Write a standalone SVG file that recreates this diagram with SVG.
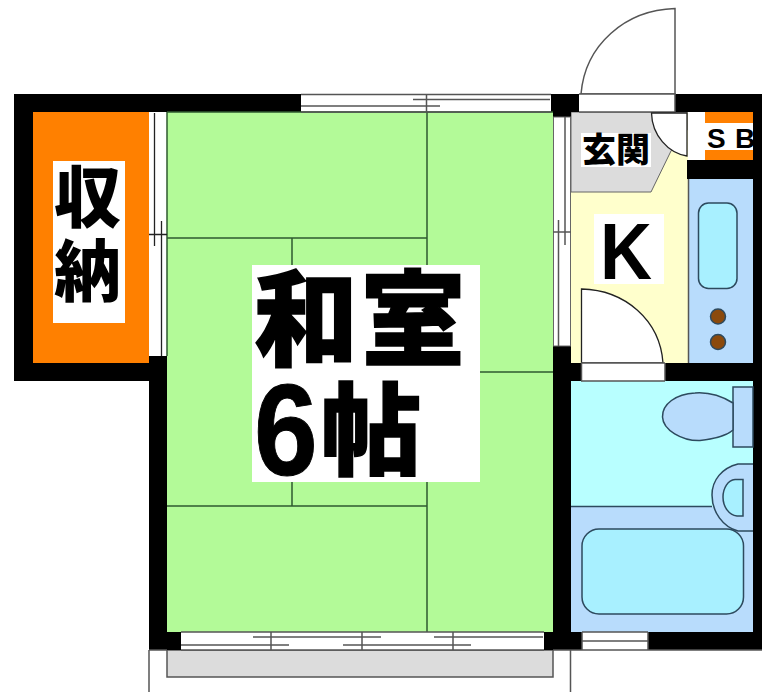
<svg xmlns="http://www.w3.org/2000/svg" width="762" height="692" viewBox="0 0 762 692">
<style>
.w{fill:#000}
.l{fill:none;stroke:#555;stroke-width:1.5}
.t{stroke:#2f5a2f;stroke-width:1.5;fill:none}
.d{stroke:#2d4a5e;stroke-width:1.5}
.k{stroke:#222;stroke-width:1.3}
.n{fill:none}
.wh{fill:#fff}
.cjk{font-family:"Noto Sans CJK JP","Liberation Sans",sans-serif;font-weight:900;fill:#000}
.lat{font-family:"Liberation Sans",sans-serif;font-weight:700;fill:#000}
</style>
<rect width="762" height="692" fill="#fff"/>
<!-- floors -->
<rect x="167" y="112" width="386" height="520" fill="#b3fa98"/>
<rect x="33" y="112" width="116" height="251" fill="#ff8000"/>
<rect x="571" y="112" width="117" height="251" fill="#ffffcc"/>
<polygon points="571,112 687,112 687,130 671,151 651,192 571,192" fill="#dcdcdc" stroke="#666" stroke-width="1"/>
<rect x="688" y="179" width="65" height="184" fill="#b8dcfc"/>
<rect x="571" y="381" width="182" height="126" fill="#b8ffff"/>
<rect x="571" y="507" width="182" height="125" fill="#b8dcfc"/>
<rect x="705" y="112" width="48" height="48" fill="#ff8000"/>
<rect x="688" y="112" width="17" height="48" fill="#fff"/>
<rect x="705" y="123" width="48" height="27" fill="#fff"/>
<rect x="167" y="650" width="386" height="27" fill="#dcdcdc" stroke="#555" stroke-width="1.5"/>
<!-- walls -->
<g class="w">
<rect x="14" y="94" width="287" height="18"/>
<rect x="14" y="94" width="19" height="287"/>
<rect x="14" y="363" width="153" height="18"/>
<rect x="149" y="356" width="18" height="294"/>
<rect x="149" y="632" width="32" height="18"/>
<rect x="551" y="94" width="28" height="18"/>
<rect x="553" y="94" width="18" height="23"/>
<rect x="675" y="94" width="87" height="18"/>
<rect x="753" y="94" width="9" height="556"/>
<rect x="687" y="160" width="66" height="19"/>
<rect x="553" y="346" width="18" height="304"/>
<rect x="553" y="363" width="28" height="18"/>
<rect x="665" y="363" width="97" height="18"/>
<rect x="544" y="632" width="38" height="18"/>
<rect x="648" y="632" width="114" height="18"/>
</g>
<!-- tatami lines -->
<g class="t">
<path d="M427 112V265M427 482V632M167 238H427M292 238V265M292 482V506M167 506H427M480 372H553"/>
<path d="M167 112H553M167 112V356"/>
</g>
<!-- top window -->
<g class="l">
<path d="M301 94.500H551M413 99.500H550M301 106H440M426.500 94V112M301 112H551"/>
</g>
<!-- closet slider -->
<path d="M154.500 113V246M161.500 221V356M149 234.500H167" class="k n"/>
<!-- kitchen slider -->
<rect x="553.500" y="117" width="17" height="229" fill="#fff" stroke="#666" stroke-width="1"/>
<path d="M558.500 220V346M565 117V245M553 232H571" class="l"/>
<!-- bottom window -->
<rect x="181" y="632" width="363" height="18" fill="#fff"/>
<path d="M181 632H544M181 650H544M253 637H381M434 637H543M181 645H289M343 645H471M271 632V650M362 632V650M453 632V650" class="l"/>
<rect x="582" y="632" width="66" height="18" fill="#fff"/>
<path d="M582 632H648M582 641H648M582 650H648M582 632V650M648 632V650" class="l"/>
<path d="M149 650V692M570.500 650V692M149 650H167M553 650H582M648 650H762" class="l"/>
<!-- doors -->
<path d="M581 94C585 45 625 10 675 8.500V94Z" class="l"/>
<rect x="579" y="94" width="96" height="18" fill="#fff"/>
<path d="M579 94H675V112H579" class="l"/>
<path d="M651.500 113H687V156C668 153 652 135 651.500 113Z" class="k wh"/>
<path d="M581.500 289V363H663C660 320 625 290 581.500 289Z" class="k wh"/>
<rect x="581" y="363" width="84" height="18" fill="#fff"/>
<path d="M581 363H665M581 381H665M581.500 363V381M665 363V381" class="l"/>
<!-- fixtures -->
<path d="M688.500 179V363" class="l"/>
<rect x="698.500" y="203" width="38.500" height="85.500" rx="10" fill="#a8f0ff" class="d"/>
<circle cx="718" cy="316.500" r="7.500" fill="#8b4a0c" class="d"/>
<circle cx="718" cy="342" r="7.500" fill="#8b4a0c" class="d"/>
<path d="M571 506.500H712" class="d" fill="none"/>
<path d="M753 464H738C722 468 712 480 712 495C712 512 723 527 738 531H753" fill="#b8dcfc" class="d"/>
<path d="M743 479.500H735C728 480 723 488 723 497C723 507 729 515 737 516H743Z" fill="#a8f0ff" class="d"/>
<rect x="582" y="529" width="161.500" height="85" rx="17" fill="#a8f0ff" class="d"/>
<rect x="733" y="387" width="20" height="60" fill="#b8dcfc" class="d"/>
<path d="M733 403C720 395 708 392 695 393C676 394 662 404 662.500 417C663 430 682 441 700 440.500C712 439 725 437 733 430Z" fill="#b8dcfc" class="d"/>
<!-- labels -->
<rect x="252" y="265" width="228" height="217" fill="#fff"/>
<text class="cjk" x="254" y="358" font-size="104" stroke="#000" stroke-width="1.500">和</text>
<text class="cjk" x="361" y="358" font-size="104" stroke="#000" stroke-width="1.500">室</text>
<text class="lat" transform="translate(254 475) scale(0.88 1)" font-size="130" stroke="#000" stroke-width="1">6</text>
<text class="cjk" x="321" y="467" font-size="100" stroke="#000" stroke-width="1.500">帖</text>
<rect x="53" y="161" width="72" height="162" fill="#fff"/>
<text class="cjk" x="54" y="222" font-size="67">収</text>
<text class="cjk" x="54" y="296" font-size="67">納</text>
<rect x="581" y="133" width="70" height="34" fill="#fff"/>
<text class="cjk" x="582" y="162" font-size="34">玄関</text>
<rect x="594" y="214" width="70" height="70" fill="#fff"/>
<text class="lat" transform="translate(600 279) scale(0.9 1)" font-size="80">K</text>
<text class="lat" x="707" y="148" font-size="28">S</text>
<text class="lat" x="735" y="148" font-size="28">B</text>
</svg>
